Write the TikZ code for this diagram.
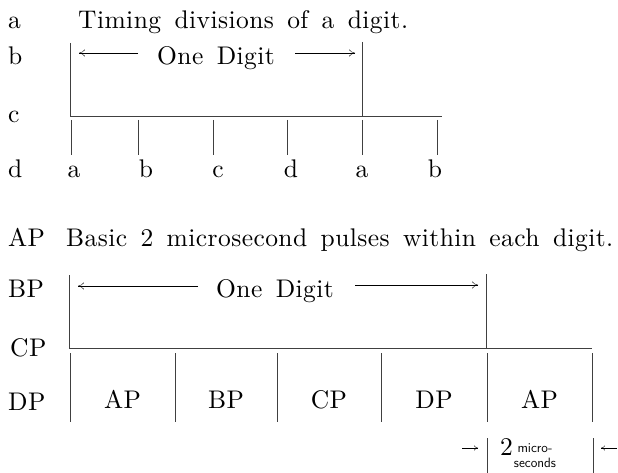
\documentclass[tikz,border=0pt]{standalone}
\usepackage{fontspec}
\usetikzlibrary{arrows.meta}

\newfontfamily\spacedfont{lmroman10-regular.otf}[LetterSpace=1.7,WordSpace=1.5]
\newcommand*{\lineA}{116}
\newcommand*{\lineB}{348}

\begin{document}
\begin{tikzpicture}
[
	x=1pt, y=-1pt,
	>={To[length=6pt,width=7pt]},
	txt/.style={anchor=base west, inner sep=0pt, font=\spacedfont\fontsize{25.5}{28}\selectfont},
	lbl/.style={anchor=base, inner sep=0pt, font=\spacedfont\fontsize{25.5}{28}\selectfont},
	rule/.style={line width=0.8pt, black!75}
]
	\useasboundingbox (0,0) rectangle (618,473);

	% timing divisions of a digit
	\node[txt] (ra) at (8,29) {a};
	\node[txt] (title1) at (78,29) {Timing divisions of a digit.};
	\node[txt] (rb) at (8,65) {b};
	\node[txt] (rc) at (8,123) {c};
	\node[txt] (rd) at (8,178) {d};

	\node[lbl] (digit1) at (216,65) {One Digit};
	\draw[->] (138,53) -- (79,53);
	\draw[->] (295,53) -- (355,53);

	\draw[rule] (70,43) -- (70,\lineA) -- (442,\lineA);
	\draw[rule] (362,42) -- (362,\lineA);
	\foreach \x/\lx/\l in {71/74/a, 138/146/b, 213/218/c, 287/291/d, 362/362/a, 437/435/b}
	{
		\draw[rule] (\x,\lineA+4) -- (\x,155);
		\node[lbl] at (\lx,178) {\l};
	}

	% basic pulses within each digit
	\node[txt] (rap) at (8,246) {AP};
	\node[txt] (title2) at (66,246) {Basic 2 microsecond pulses within each digit.};
	\node[txt] (rbp) at (8,297) {BP};
	\node[txt] (rcp) at (10,356) {CP};
	\node[txt] (rdp) at (8,410) {DP};

	\node[lbl] (digit2) at (275,297) {One Digit};
	\draw[->] (198,286) -- (78,286);
	\draw[->] (355,285) -- (478,285);

	\draw[rule] (69,275) -- (69,\lineB) -- (592,\lineB);
	\draw[rule] (486,274) -- (486,\lineB);
	\foreach \x in {70,175,277,381,487,592}
		\draw[rule] (\x,\lineB+5) -- (\x,422);
	\foreach \a/\b/\l in {70/175/AP, 175/277/BP, 277/381/CP, 381/487/DP, 487/592/AP}
		\node[lbl] at ({(\a+\b)/2},408) {\l};

	% 2 microseconds
	\draw[rule] (487,438) -- (487,473);
	\draw[rule] (593,438) -- (593,473);
	\draw[-{To[length=4pt,width=5pt]}] (462,448) -- (478,448);
	\draw[-{To[length=4pt,width=5pt]}] (617,448) -- (601,448);
	\node[txt] (two) at (500,455) {2};
	\node[align=center, inner sep=0pt, font=\sffamily\fontsize{13.5}{15}\selectfont] (micro) at (535,456) {micro-\\seconds};

\end{tikzpicture}
\end{document}
